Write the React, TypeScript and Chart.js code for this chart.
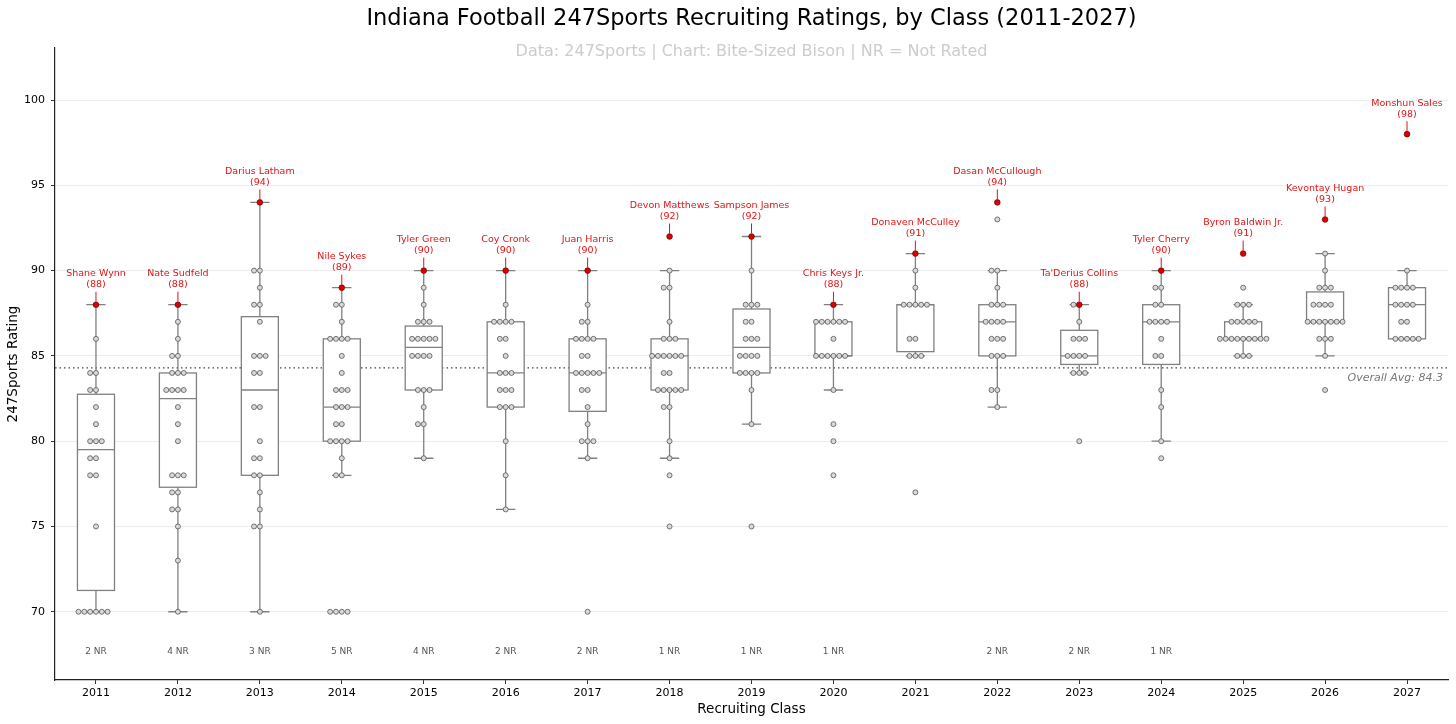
import React, { useEffect, useRef } from "react";
import { Chart, registerables } from "chart.js";

Chart.register(...registerables);

const FONT = "'DejaVu Sans', sans-serif";

const years = [
  "2011", "2012", "2013", "2014", "2015", "2016", "2017", "2018", "2019",
  "2020", "2021", "2022", "2023", "2024", "2025", "2026", "2027",
];

// first value of every class is its top recruit (drawn red)
const ratings: number[][] = [
  [88, 86, 84, 84, 83, 83, 82, 81, 80, 80, 80, 79, 79, 78, 78, 75, 70, 70, 70, 70, 70, 70],
  [88, 87, 86, 85, 85, 84, 84, 84, 83, 83, 83, 83, 82, 81, 80, 78, 78, 78, 77, 77, 76, 76, 75, 73, 70],
  [94, 90, 90, 89, 88, 88, 87, 85, 85, 85, 84, 84, 82, 82, 80, 79, 79, 78, 78, 77, 76, 75, 75, 70],
  [89, 88, 88, 87, 86, 86, 86, 86, 85, 84, 83, 83, 83, 82, 82, 82, 81, 81, 80, 80, 80, 80, 79, 78, 78, 70, 70, 70, 70],
  [90, 89, 88, 87, 87, 87, 86, 86, 86, 86, 86, 85, 85, 85, 85, 83, 83, 83, 82, 81, 81, 79],
  [90, 88, 87, 87, 87, 87, 86, 86, 85, 84, 84, 84, 83, 83, 83, 82, 82, 82, 80, 78, 76],
  [90, 88, 87, 87, 86, 86, 86, 86, 85, 85, 84, 84, 84, 84, 84, 83, 83, 82, 81, 80, 80, 80, 79, 70],
  [92, 90, 89, 89, 87, 86, 86, 86, 85, 85, 85, 85, 85, 85, 84, 84, 83, 83, 83, 83, 83, 82, 82, 80, 79, 78, 75],
  [92, 90, 88, 88, 88, 87, 87, 86, 86, 86, 85, 85, 85, 85, 84, 84, 84, 84, 83, 81, 75],
  [88, 87, 87, 87, 87, 87, 87, 86, 85, 85, 85, 85, 85, 85, 83, 81, 80, 78],
  [91, 90, 89, 88, 88, 88, 88, 88, 86, 86, 85, 85, 85, 77],
  [94, 93, 90, 90, 89, 88, 88, 88, 87, 87, 87, 87, 86, 86, 86, 85, 85, 85, 83, 83, 82],
  [88, 88, 87, 86, 86, 86, 85, 85, 85, 85, 84, 84, 84, 80],
  [90, 89, 89, 88, 88, 87, 87, 87, 87, 86, 85, 85, 83, 82, 80, 79],
  [91, 89, 88, 88, 88, 87, 87, 87, 87, 87, 86, 86, 86, 86, 86, 86, 86, 86, 86, 85, 85, 85],
  [93, 91, 90, 89, 89, 89, 88, 88, 88, 88, 87, 87, 87, 87, 87, 87, 87, 86, 86, 86, 85, 83],
  [98, 90, 89, 89, 89, 89, 88, 88, 88, 88, 87, 87, 86, 86, 86, 86, 86],
];

const topNames = [
  "Shane Wynn", "Nate Sudfeld", "Darius Latham", "Nile Sykes", "Tyler Green",
  "Coy Cronk", "Juan Harris", "Devon Matthews", "Sampson James", "Chris Keys Jr.",
  "Donaven McCulley", "Dasan McCullough", "Ta'Derius Collins", "Tyler Cherry",
  "Byron Baldwin Jr.", "Kevontay Hugan", "Monshun Sales",
];

const nrCounts = [2, 4, 3, 5, 4, 2, 2, 1, 1, 1, 0, 2, 2, 1, 0, 0, 0];

const boxQ1 = [71.25, 77.3, 78, 80, 83, 82, 81.75, 83, 84, 85, 85.25, 85, 84.5, 84.5, 86, 87, 86];
const boxMedian = [79.5, 82.5, 83, 82, 85.5, 84, 84, 85, 85.5, 85, 88, 87, 85, 87, 86, 87, 88];
const boxQ3 = [82.75, 84, 87.3, 86, 86.75, 87, 86, 86, 87.75, 87, 88, 88, 86.5, 88, 87, 88.75, 89];
const whiskerLow = [70, 70, 70, 78, 79, 76, 79, 79, 81, 83, 85, 82, 84, 80, 85, 85, 86];
const whiskerHigh = [88, 88, 94, 89, 90, 90, 90, 90, 92, 88, 91, 90, 88, 90, 88, 91, 90];

const overallAvg = 84.3;
const yTicks = [70, 75, 80, 85, 90, 95, 100];

const DOT_STEP = 0.071;
const BOX_HALF = 0.226;
const CAP_HALF = 0.118;
const RED = "#e01414";

// simple swarm: equal values spread out from the centre, left first
function swarm(values: number[], ci: number) {
  const seen: Record<number, number> = {};
  return values.map((v) => {
    const k = seen[v] ?? 0;
    seen[v] = k + 1;
    const slot = k === 0 ? 0 : k % 2 === 1 ? -(k + 1) / 2 : k / 2;
    return { x: ci + slot * DOT_STEP, y: v };
  });
}

const swarmPoints = ratings.map((vals, i) => swarm(vals, i));
const grayPoints = swarmPoints.flatMap((pts) => pts.slice(1));
const redPoints = swarmPoints.map((pts) => pts[0]);

const boxPlugin = {
  id: "boxes",
  beforeDatasetsDraw(chart: any) {
    const { ctx, chartArea, scales } = chart;
    const x = scales.x;
    const y = scales.y;
    ctx.save();

    const ay = y.getPixelForValue(overallAvg);
    ctx.strokeStyle = "#444";
    ctx.lineWidth = 1.3;
    ctx.setLineDash([1.5, 3]);
    ctx.beginPath();
    ctx.moveTo(chartArea.left, ay);
    ctx.lineTo(chartArea.right, ay);
    ctx.stroke();
    ctx.setLineDash([]);

    ctx.font = `italic 11px ${FONT}`;
    ctx.fillStyle = "#777";
    ctx.textAlign = "right";
    ctx.textBaseline = "middle";
    ctx.fillText(`Overall Avg: ${overallAvg}`, chartArea.right - 5, ay + 10);

    ctx.strokeStyle = "#808080";
    ctx.lineWidth = 1.3;
    years.forEach((_, i) => {
      const l = x.getPixelForValue(i - BOX_HALF);
      const r = x.getPixelForValue(i + BOX_HALF);
      const c = x.getPixelForValue(i);
      const cl = x.getPixelForValue(i - CAP_HALF);
      const cr = x.getPixelForValue(i + CAP_HALF);
      const q1 = y.getPixelForValue(boxQ1[i]);
      const q3 = y.getPixelForValue(boxQ3[i]);
      const md = y.getPixelForValue(boxMedian[i]);
      const wl = y.getPixelForValue(whiskerLow[i]);
      const wh = y.getPixelForValue(whiskerHigh[i]);

      ctx.beginPath();
      ctx.moveTo(c, q3);
      ctx.lineTo(c, wh);
      ctx.moveTo(cl, wh);
      ctx.lineTo(cr, wh);
      ctx.moveTo(c, q1);
      ctx.lineTo(c, wl);
      ctx.moveTo(cl, wl);
      ctx.lineTo(cr, wl);
      ctx.stroke();

      ctx.fillStyle = "#fff";
      ctx.fillRect(l, q3, r - l, q1 - q3);
      ctx.strokeRect(l, q3, r - l, q1 - q3);
      ctx.beginPath();
      ctx.moveTo(l, md);
      ctx.lineTo(r, md);
      ctx.stroke();
    });
    ctx.restore();
  },
  afterDatasetsDraw(chart: any) {
    const { ctx, chartArea, scales } = chart;
    const x = scales.x;
    const y = scales.y;
    ctx.save();
    ctx.textAlign = "center";
    ctx.textBaseline = "middle";

    years.forEach((_, i) => {
      const c = x.getPixelForValue(i);
      const py = y.getPixelForValue(ratings[i][0]);
      ctx.strokeStyle = RED;
      ctx.lineWidth = 1;
      ctx.beginPath();
      ctx.moveTo(c, py - 13);
      ctx.lineTo(c, py - 3);
      ctx.stroke();
      ctx.fillStyle = RED;
      ctx.font = `9.5px ${FONT}`;
      ctx.fillText(topNames[i], c, py - 31);
      ctx.fillText(`(${ratings[i][0]})`, c, py - 20);

      if (nrCounts[i] > 0) {
        ctx.fillStyle = "#555";
        ctx.font = `9px ${FONT}`;
        ctx.fillText(`${nrCounts[i]} NR`, c, y.getPixelForValue(67.65));
      }
    });

    const mid = (chartArea.left + chartArea.right) / 2;
    ctx.fillStyle = "#000";
    ctx.font = `22.5px ${FONT}`;
    ctx.fillText("Indiana Football 247Sports Recruiting Ratings, by Class (2011-2027)", mid, 19);
    ctx.fillStyle = "#cccccc";
    ctx.font = `16px ${FONT}`;
    ctx.fillText("Data: 247Sports | Chart: Bite-Sized Bison | NR = Not Rated", mid, 52);
    ctx.restore();
  },
};

const App = () => {
  const canvasRef = useRef<HTMLCanvasElement>(null);

  useEffect(() => {
    document.body.style.margin = "0";
    if (!canvasRef.current) return;
    const ctx = canvasRef.current.getContext("2d");
    if (!ctx) return;

    Chart.defaults.font.family = FONT;

    const chart = new Chart(ctx, {
      type: "scatter",
      data: {
        datasets: [
          {
            data: grayPoints,
            backgroundColor: "#d9d9d9",
            borderColor: "#555",
            pointRadius: 2.5,
            pointBorderWidth: 0.8,
          },
          {
            data: redPoints,
            backgroundColor: "#dd0000",
            borderColor: "#7a0000",
            pointRadius: 2.8,
            pointBorderWidth: 0.8,
          },
        ],
      },
      options: {
        animation: false,
        responsive: true,
        maintainAspectRatio: false,
        layout: { padding: { left: 0, right: 8, top: 48, bottom: 0 } },
        plugins: {
          legend: { display: false },
          tooltip: { enabled: false },
        },
        scales: {
          x: {
            type: "linear",
            min: -0.5,
            max: 16.5,
            afterBuildTicks: (s: any) => {
              s.ticks = years.map((_, i) => ({ value: i }));
            },
            afterFit: (s: any) => {
              s.height = 44;
            },
            ticks: {
              callback: (v: any) => years[v] ?? "",
              color: "#000",
              font: { size: 11 },
              padding: 3,
              autoSkip: false,
              maxRotation: 0,
            },
            grid: { drawOnChartArea: false, tickLength: 4, tickColor: "#333" },
            border: { display: true, color: "#222", width: 1.2 },
            title: {
              display: true,
              text: "Recruiting Class",
              color: "#000",
              font: { size: 13.5 },
              padding: { top: 0, bottom: 6 },
            },
          },
          y: {
            type: "linear",
            min: 66,
            max: 103.05,
            afterBuildTicks: (s: any) => {
              s.ticks = yTicks.map((v) => ({ value: v }));
            },
            afterFit: (s: any) => {
              s.width = 55;
            },
            ticks: { color: "#000", font: { size: 11 }, padding: 6 },
            grid: { color: "#ececec", lineWidth: 1, tickLength: 4, tickColor: "#333" },
            border: { display: true, color: "#222", width: 1.2 },
            title: {
              display: true,
              text: "247Sports Rating",
              color: "#000",
              font: { size: 13.5 },
              padding: { top: 5, bottom: 0 },
            },
          },
        },
      },
      plugins: [boxPlugin],
    });

    return () => {
      chart.destroy();
    };
  }, []);

  return (
    <div style={{ width: 1456, height: 724 }}>
      <canvas ref={canvasRef} />
    </div>
  );
};

export default App;
